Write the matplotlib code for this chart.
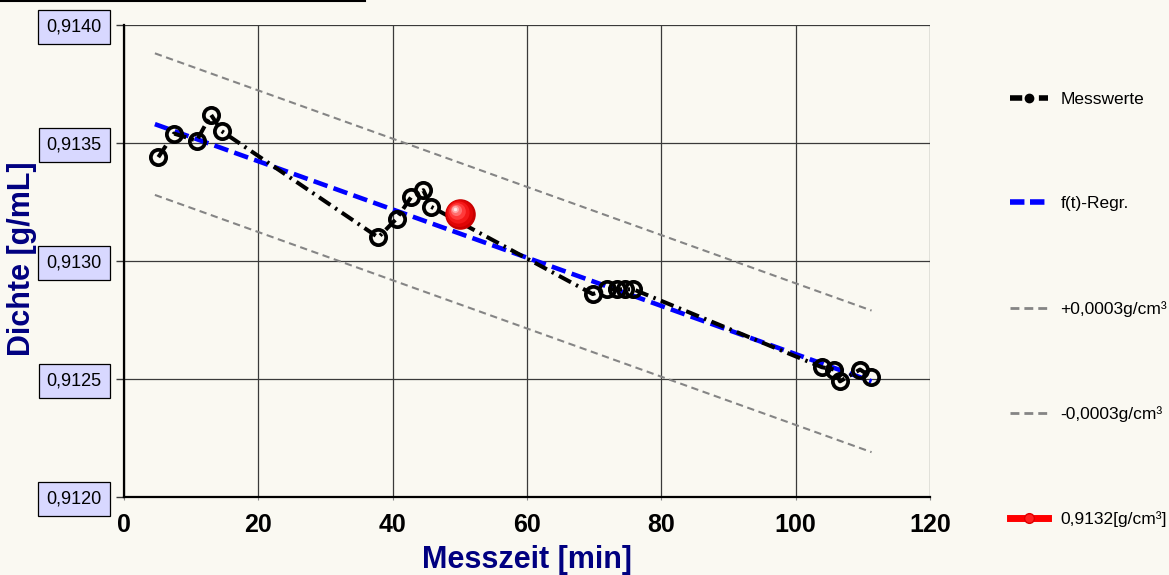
import matplotlib
matplotlib.use("Agg")
import matplotlib.pyplot as plt
from matplotlib.lines import Line2D
from matplotlib.ticker import FuncFormatter
from matplotlib.transforms import ScaledTranslation

# measured density over time
t_min = [5.11, 7.44, 10.82, 12.95, 14.55, 37.86, 40.60, 42.73, 44.56, 45.71,
         69.78, 71.87, 73.36, 74.59, 75.83, 103.9, 105.75, 106.6, 109.58, 111.22]
rho = [0.91344, 0.91354, 0.91351, 0.91362, 0.91355, 0.91310, 0.91318, 0.91327,
       0.91330, 0.91323, 0.91286, 0.91288, 0.91288, 0.91288, 0.91288,
       0.91255, 0.91254, 0.91249, 0.91254, 0.91251]

# linear regression f(t), given by its end points
reg_t = [4.6, 111.3]
reg_rho = [0.91358, 0.91249]
tolerance = 0.0003

# evaluated density at the reference time
ref_t = [50.0]
ref_rho = [0.9132]

x_ticks = [0, 20, 40, 60, 80, 100, 120]
y_ticks = [0.9120, 0.9125, 0.9130, 0.9135, 0.9140]

labels = ["Messwerte", "f(t)-Regr.", "+0,0003g/cm³", "-0,0003g/cm³", "0,9132[g/cm³]"]

BG = "#FAF9F2"
NAVY = "#000080"
SANS = ["Liberation Sans", "DejaVu Sans"]

fig = plt.figure(figsize=(11.69, 5.75), dpi=100, facecolor=BG)
ax = fig.add_axes([124 / 1169, 1 - 497 / 575, 806 / 1169, 472 / 575], facecolor=BG)

# tolerance band
upper = [r + tolerance for r in reg_rho]
lower = [r - tolerance for r in reg_rho]
ax.plot(reg_t, upper, color="#858585", lw=1.5, linestyle=(0, (3.5, 2.2)), zorder=3)
ax.plot(reg_t, lower, color="#858585", lw=1.5, linestyle=(0, (3.5, 2.2)), zorder=3)

# regression line
ax.plot(reg_t, reg_rho, color="#0000FF", lw=3.3, linestyle=(0, (3.2, 1.4)), zorder=4)

# measurements
ax.plot(t_min, rho, color="black", lw=2.9, linestyle=(0, (3.4, 1.4, 0.6, 1.4)),
        marker="o", markersize=11, markerfacecolor="none",
        markeredgewidth=2.7, markeredgecolor="black", zorder=5)

# shaded sphere for the reference value
layers = [("#C80000", 22, 0.0, 0.0), ("#E00505", 19.5, -0.6, 0.6),
          ("#F41818", 16, -1.3, 1.3), ("#FF3A3A", 12, -2.0, 2.0),
          ("#FF6E6E", 8, -2.8, 2.8), ("#FFA8A8", 5, -3.4, 3.4),
          ("#FFE8E8", 2.5, -3.8, 3.8)]
for col, size, dx, dy in layers:
    tr = ax.transData + ScaledTranslation(dx / 72, dy / 72, fig.dpi_scale_trans)
    ax.plot(ref_t, ref_rho, linestyle="none", marker="o", markersize=size,
            markerfacecolor=col, markeredgecolor="none", transform=tr, zorder=6)

ax.set_xlim(0, 120)
ax.set_ylim(0.9120, 0.9140)
ax.set_xticks(x_ticks)
ax.set_yticks(y_ticks)
ax.yaxis.set_major_formatter(FuncFormatter(lambda v, p: f"{v:.4f}".replace(".", ",")))
ax.grid(True, color="#3A3A3A", lw=0.9, zorder=1)
ax.set_axisbelow(True)

for s in ("top", "right"):
    ax.spines[s].set_visible(False)
for s in ("left", "bottom"):
    ax.spines[s].set_color("black")
    ax.spines[s].set_linewidth(1.6)

ax.tick_params(axis="y", direction="out", length=6, width=1, color="#3A3A3A", pad=10)
ax.tick_params(axis="x", direction="out", length=2.5, width=0.8, color="#888888", pad=9)

for lab in ax.get_yticklabels():
    lab.set_fontfamily(SANS)
    lab.set_fontsize(13)
    lab.set_bbox(dict(boxstyle="square,pad=0.45", facecolor="#D8D8FF",
                      edgecolor="black", linewidth=0.9))
for lab in ax.get_xticklabels():
    lab.set_fontfamily(SANS)
    lab.set_fontweight("bold")
    lab.set_fontsize(18)

ax.set_xlabel("Messzeit [min]", fontsize=22, fontweight="bold", color=NAVY,
              family=SANS, labelpad=6)
ax.set_ylabel("Dichte [g/mL]", fontsize=22, fontweight="bold", color=NAVY, family=SANS)
ax.yaxis.set_label_coords(-0.108, 0.505)

# legend
handles = [
    Line2D([], [], color="black", lw=4, linestyle=(0, (2.2, 1.2, 0.6, 1.2)),
           marker="o", markersize=6, markerfacecolor="black", markeredgecolor="black"),
    Line2D([], [], color="#0000FF", lw=4, linestyle=(0, (2.6, 1.0))),
    Line2D([], [], color="#858585", lw=2, linestyle=(0, (3.2, 1.8))),
    Line2D([], [], color="#858585", lw=2, linestyle=(0, (3.2, 1.8))),
    Line2D([], [], color="#FF0000", lw=5, marker="o", markersize=7,
           markerfacecolor="#FF2020", markeredgecolor="#E00000"),
]
fig.legend(handles, labels, loc="upper left", bbox_to_anchor=(1003 / 1169, 1 - 85 / 575),
           frameon=False, prop={"family": SANS, "size": 12.5}, handlelength=2.2,
           handletextpad=0.7, labelspacing=5.14, borderaxespad=0)

# underline of the heading above the plot
fig.add_artist(Line2D([0, 365 / 1169], [1 - 1 / 575, 1 - 1 / 575],
                      transform=fig.transFigure, color="black", lw=1.5))

fig.savefig("out.png", dpi=100, facecolor=BG)
